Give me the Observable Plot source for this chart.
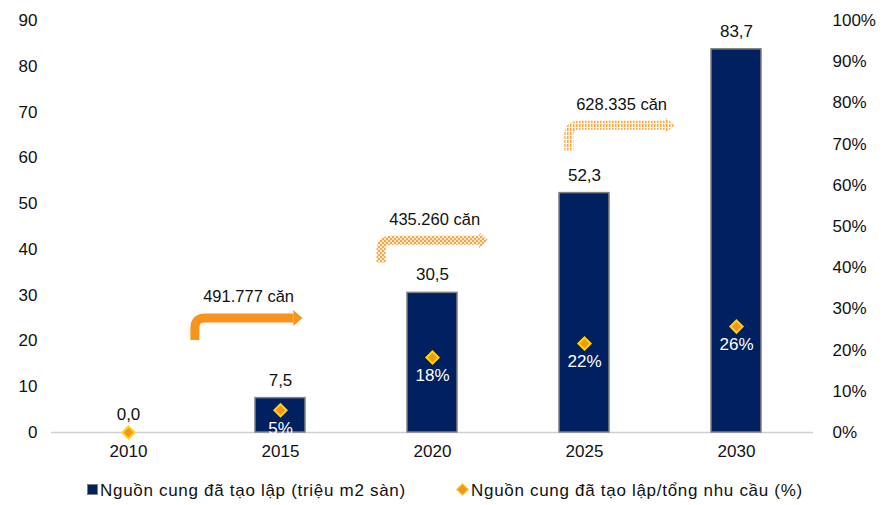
<!DOCTYPE html>
<html>
<head>
<meta charset="utf-8">
<script src="https://cdn.jsdelivr.net/npm/d3@7"></script>
<script src="https://cdn.jsdelivr.net/npm/@observablehq/plot@0.6"></script>
<style>
  html, body { margin: 0; padding: 0; background: #fff; }
  body { width: 891px; height: 505px; overflow: hidden; font-family: "Liberation Sans", Arial, sans-serif; }
  #legend { position: relative; height: 35px; font-size: 17px; letter-spacing: 0.7px; color: #111; }
  #legend .item { position: absolute; top: 12px; white-space: nowrap; line-height: 18px; }
  #legend .sq { display: inline-block; width: 9px; height: 9px; background: #002060; border: 1px solid #7f7f7f; margin-right: 2px; vertical-align: 1px; }
  #legend .dm { display: inline-block; width: 7px; height: 7px; background: #f7941d; border: 1.5px solid #ffd700; transform: rotate(45deg); margin-right: 4px; margin-left: 2px; vertical-align: 2px; }
</style>
</head>
<body>
<div id="chart"></div>
<div id="legend"></div>
<script>
// ---- data ----
const years = ["2010", "2015", "2020", "2025", "2030"];
const supply = [0.0, 7.5, 30.5, 52.3, 83.7];            // triệu m2 sàn
const shareOfDemand = [0.0, 0.054, 0.182, 0.216, 0.257]; // tỷ lệ so với tổng nhu cầu
const leftTicks = [0, 10, 20, 30, 40, 50, 60, 70, 80, 90];
const rightTicks = [0, 10, 20, 30, 40, 50, 60, 70, 80, 90, 100];
const seriesNames = ["Nguồn cung đã tạo lập (triệu m2 sàn)", "Nguồn cung đã tạo lập/tổng nhu cầu (%)"];
// annotation arrows (period increments)
const arrowLabels = ["491.777 căn", "435.260 căn", "628.335 căn"];
const arrowStart = [0.44, 1.665, 2.90];   // position in category steps
const arrowEnd = [1.147, 2.37, 3.595];
const arrowBase = [20.1, 37.0, 61.5];     // left-axis units
const arrowLevel = [24.9, 41.9, 67.0];
const arrowFills = ["solid", "checker", "dots"];

const rows = years.map((y, i) => ({year: y, supply: supply[i], share: shareOfDemand[i]}));
const arrows = arrowLabels.map((l, i) => ({label: l, x0: arrowStart[i], x1: arrowEnd[i], yb: arrowBase[i], yl: arrowLevel[i], fill: arrowFills[i]}));

const navy = "#002060";
const orange = "#f7941d";
const font = "'Liberation Sans', Arial, sans-serif";
const maxLeft = 90;

function arrowMark(index, scales, values, dims) {
  const x = scales.x, y = scales.y;
  const bw = typeof x.bandwidth === "function" ? x.bandwidth() : x.bandwidth;
  const c0 = x(years[0]) + bw / 2;
  const step = x(years[1]) - x(years[0]);
  const g = d3.create("svg:g");
  const defs = g.append("defs");
  const p1 = defs.append("pattern").attr("id", "pat-checker").attr("patternUnits", "userSpaceOnUse").attr("width", 4).attr("height", 4);
  p1.append("rect").attr("width", 4).attr("height", 4).attr("fill", "#feead2");
  p1.append("rect").attr("x", 0).attr("y", 0).attr("width", 2).attr("height", 2).attr("fill", "#f9a64a");
  p1.append("rect").attr("x", 2).attr("y", 2).attr("width", 2).attr("height", 2).attr("fill", "#f9a64a");
  const p2 = defs.append("pattern").attr("id", "pat-dots").attr("patternUnits", "userSpaceOnUse").attr("width", 3).attr("height", 4);
  p2.append("rect").attr("width", 3).attr("height", 4).attr("fill", "#fff5e8");
  p2.append("rect").attr("x", 0).attr("y", 0).attr("width", 1.5).attr("height", 3).attr("fill", "#f9a64a");
  for (const a of arrows) {
    const xv = c0 + a.x0 * step;
    const xt = c0 + a.x1 * step;
    const yb = y(a.yb), yl = y(a.yl);
    const r = 10, head = 9, sw = 9;
    const paint = a.fill === "solid" ? orange : a.fill === "checker" ? "url(#pat-checker)" : "url(#pat-dots)";
    g.append("path")
      .attr("d", `M${xv},${yb} L${xv},${yl + r} Q${xv},${yl} ${xv + r},${yl} L${xt - head},${yl}`)
      .attr("fill", "none").attr("stroke", paint).attr("stroke-width", sw);
    g.append("path")
      .attr("d", `M${xt - head},${yl - 8} L${xt},${yl} L${xt - head},${yl + 8} Z`)
      .attr("fill", paint);
    g.append("text")
      .attr("x", (xv + xt) / 2).attr("y", yl - 20)
      .attr("text-anchor", "middle").attr("dominant-baseline", "middle")
      .attr("font-size", 16.5).attr("font-family", font).attr("fill", "#111")
      .text(a.label);
  }
  return g.node();
}

const chart = Plot.plot({
  width: 891,
  height: 470,
  marginTop: 20,
  marginBottom: 38,
  marginLeft: 51,
  marginRight: 78,
  style: {fontFamily: font, fontSize: "17px", color: "#111", background: "#fff"},
  x: {domain: years, paddingInner: 0.67, paddingOuter: 0.335, label: null},
  y: {domain: [0, maxLeft], label: null},
  marks: [
    Plot.axisY({ticks: leftTicks, tickSize: 0, tickPadding: 14, label: null, anchor: "left"}),
    Plot.axisY({ticks: rightTicks.map(t => t * maxLeft / 100), tickFormat: d => Math.round(d * 100 / maxLeft) + "%", tickSize: 0, tickPadding: 19, label: null, anchor: "right", textAnchor: "start"}),
    Plot.axisX({tickSize: 0, tickPadding: 12, label: null}),
    Plot.ruleY([0], {stroke: "#d0d0d0", strokeWidth: 1.5}),
    Plot.barY(rows, {x: "year", y: "supply", fill: navy, stroke: "#7f7f7f", strokeWidth: 1.5}),
    Plot.text(rows, {x: "year", y: "supply", text: d => d.supply.toFixed(1).replace(".", ","), dy: -18, fontSize: 17, fill: "#111"}),
    Plot.dot(rows, {x: "year", y: d => d.share * maxLeft, symbol: "diamond2", r: 5.5, fill: orange, stroke: "#ffd700", strokeWidth: 2}),
    Plot.text(rows.filter(d => d.share > 0), {x: "year", y: d => d.share * maxLeft, text: d => Math.round(d.share * 100) + "%", dy: 18, fontSize: 17, fill: "#fff"}),
    arrowMark
  ]
});
document.getElementById("chart").appendChild(chart);

const legend = document.getElementById("legend");
legend.innerHTML =
  `<div class="item" style="left:87px"><span class="sq"></span>${seriesNames[0]}</div>` +
  `<div class="item" style="left:456px"><span class="dm"></span>${seriesNames[1]}</div>`;
</script>
</body>
</html>
